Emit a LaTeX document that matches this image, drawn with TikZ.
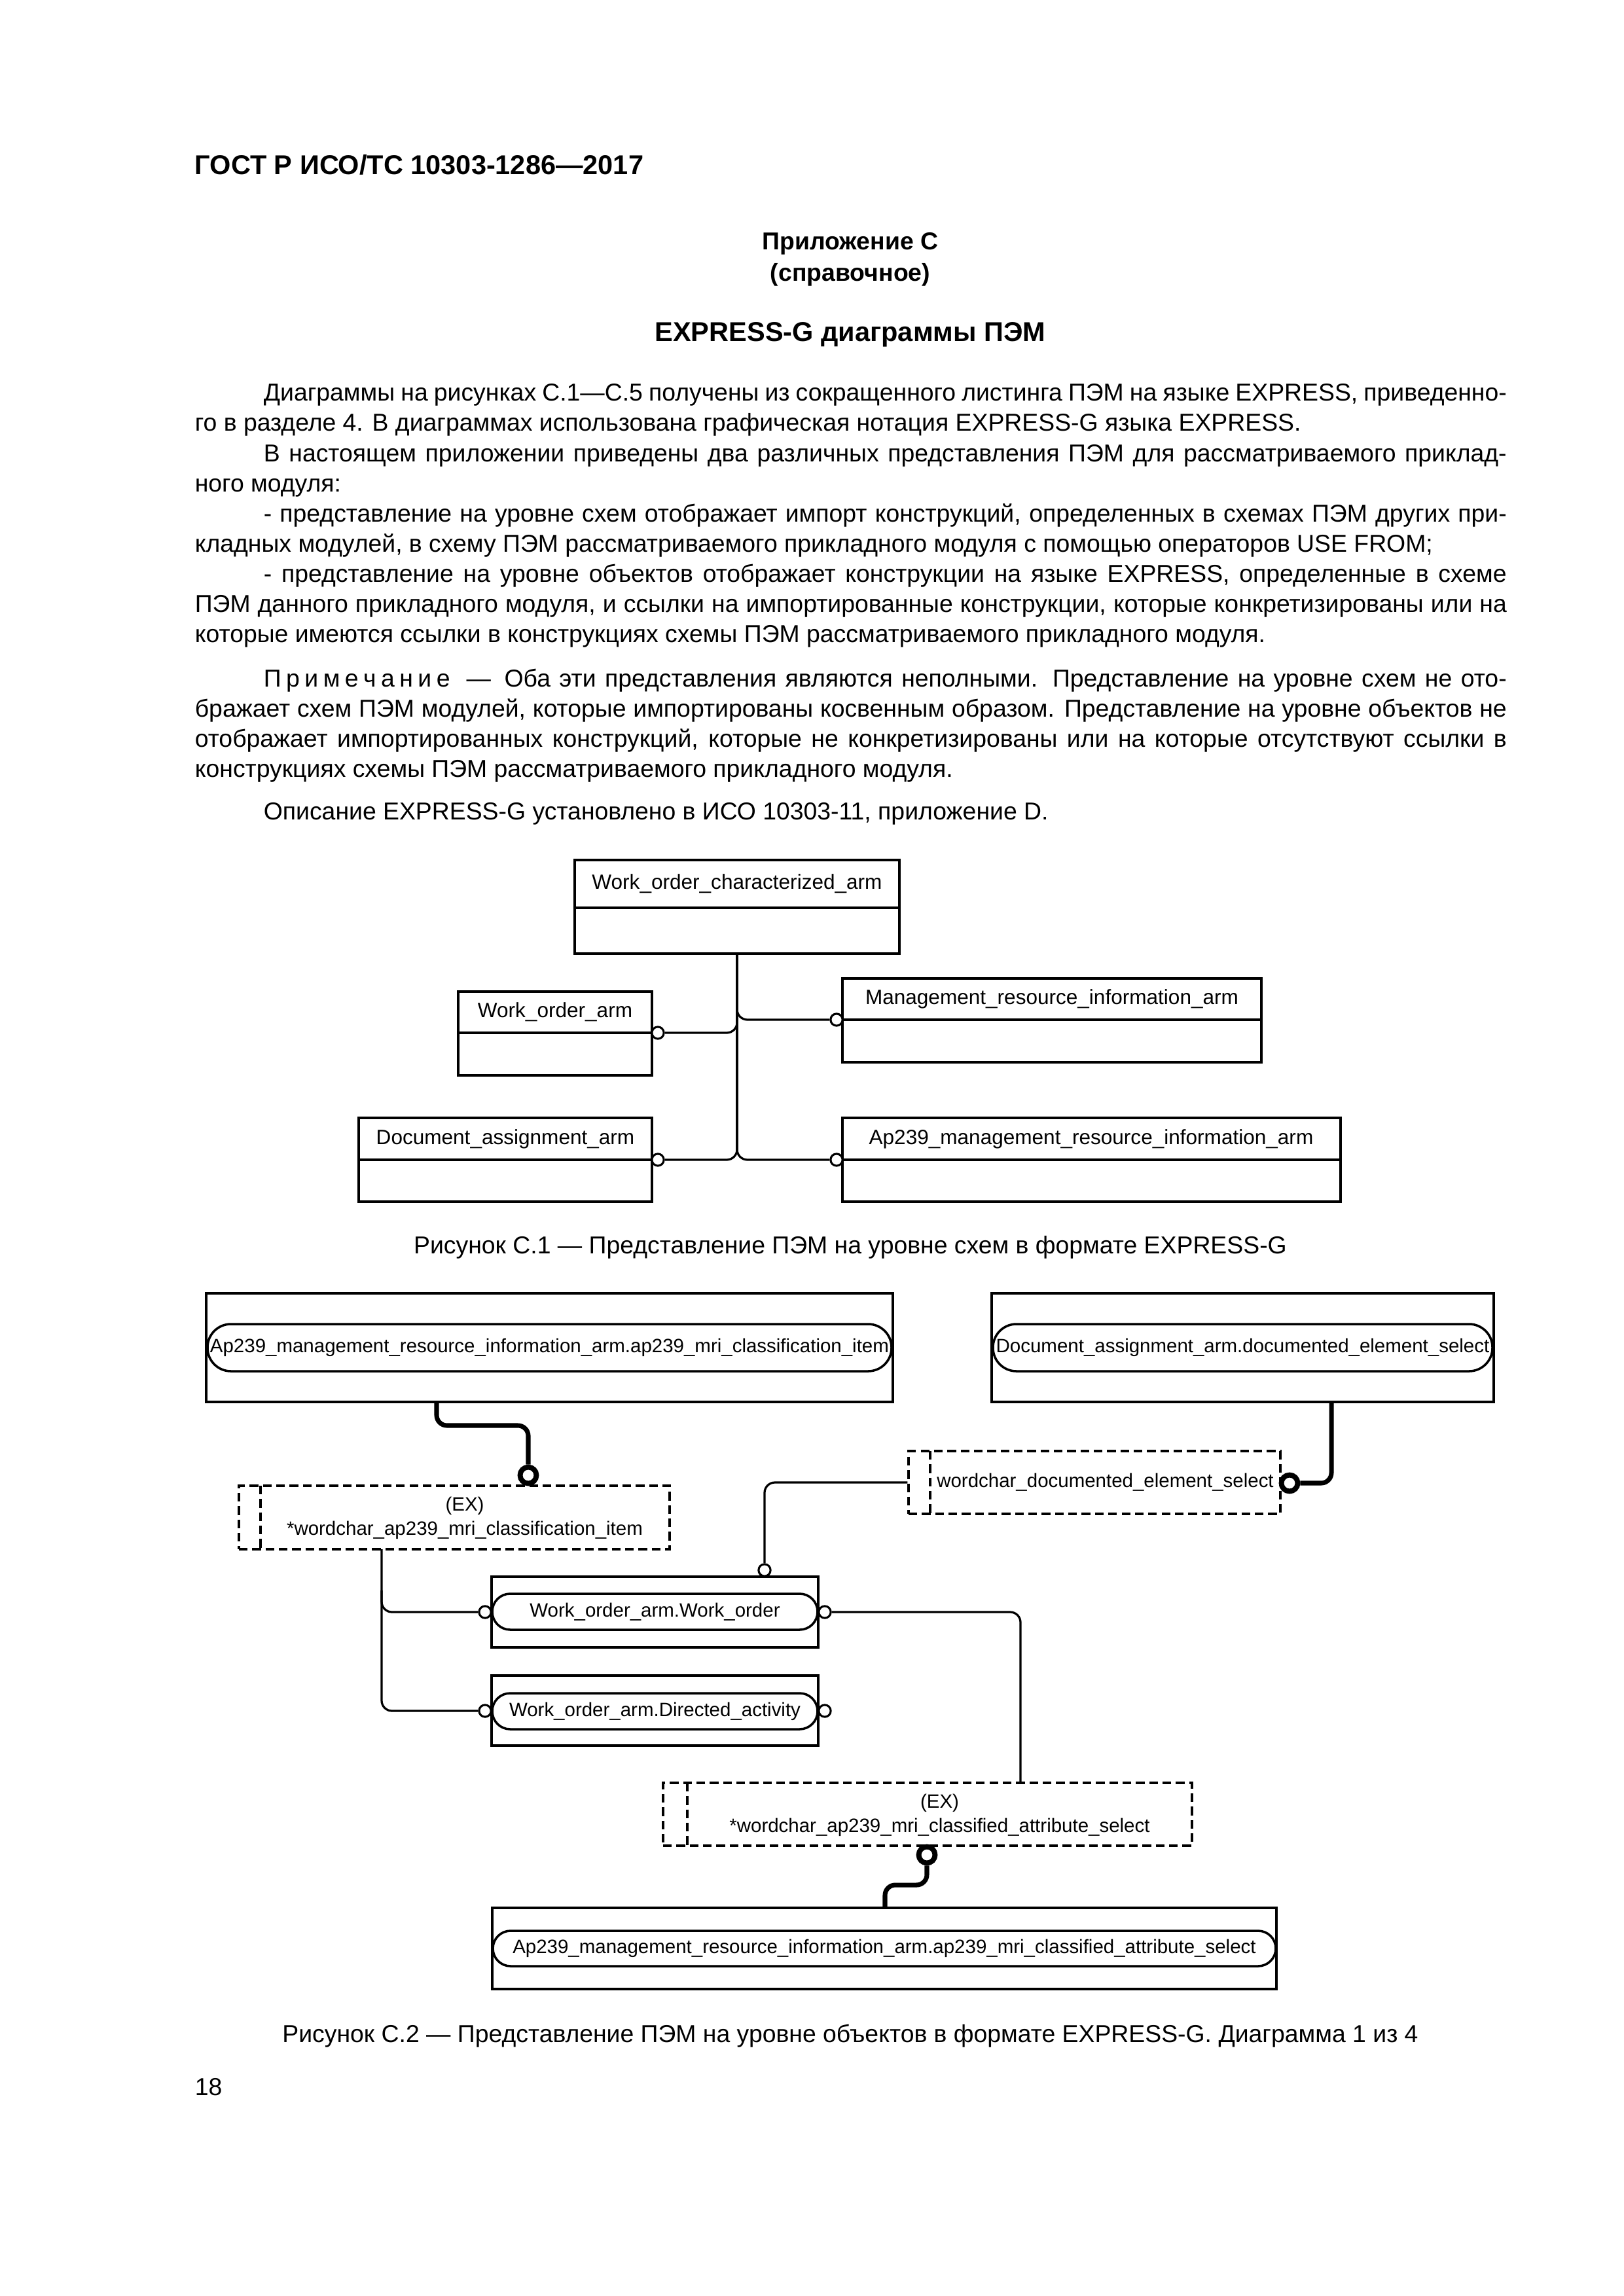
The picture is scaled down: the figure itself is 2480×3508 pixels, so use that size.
\documentclass[tikz,border=0pt]{standalone}
\usepackage{fontspec}
\setmainfont{Liberation Sans}
\usetikzlibrary{fit}
\newcommand{\jl}[1]{\makebox[482.7pt][s]{#1}}
\newcommand{\ji}[1]{\makebox[457.4pt][s]{#1}}
\begin{document}
\begin{tikzpicture}[x=0.24088pt,y=-0.24088pt,
  txt/.style={inner sep=0pt,anchor=base west,font=\fontsize{9}{11}\selectfont},
  ttl/.style={inner sep=0pt,anchor=base,font=\bfseries\fontsize{9}{11}\selectfont},
  figcap/.style={inner sep=0pt,anchor=base,font=\fontsize{9}{11}\selectfont},
  ln/.style={line width=0.78pt},
  tk/.style={line width=1.7pt},
  ebox/.style={draw,line width=0.85pt,inner sep=0pt},
  dbox/.style={draw,line width=0.8pt,inner sep=0pt,dash pattern=on 3.2pt off 1.7pt},
  dsh/.style={line width=0.8pt,dash pattern=on 3.2pt off 1.7pt},
  pill/.style={draw,line width=0.85pt,inner sep=0pt,fill=white},
  ta/.style={inner sep=0pt,font=\fontsize{7.6}{9}\selectfont},
  tb/.style={inner sep=0pt,font=\fontsize{7.1}{8.9}\selectfont},
  oc/.style={circle,draw,line width=0.75pt,fill=white,minimum size=4.4pt,inner sep=0pt},
  occ/.style={circle,draw,line width=1.9pt,fill=white,minimum size=6.0pt,inner sep=0pt},
  rc/.style={rounded corners=3.8pt}
]
\fill[white] (0,0) rectangle (2480,3508);
\useasboundingbox (0,0) rectangle (2480,3508);

% ---------------- header and text ----------------
\node[txt,font=\bfseries\fontsize{10}{12}\selectfont] (hdr) at (297,267) {ГОСТ Р ИСО/ТС 10303-1286—2017};
\node[ttl] (app) at (1299,382) {Приложение С};
\node[ttl] (ref) at (1299,430) {(справочное)};
\node[ttl,font=\bfseries\fontsize{10}{12}\selectfont] (title) at (1299,522) {EXPRESS-G диаграммы ПЭМ};

\node[txt] (l1) at (402,613) {\ji{Диаграммы на рисунках С.1—С.5 получены из сокращенного листинга ПЭМ на языке EXPRESS, приведенно-}};
\node[txt] (l2) at (297,659) {го в разделе 4. В диаграммах использована графическая нотация EXPRESS-G языка EXPRESS.};
\node[txt] (l3) at (402,705) {\ji{В настоящем приложении приведены два различных представления ПЭМ для рассматриваемого приклад-}};
\node[txt] (l4) at (297,751) {ного модуля:};
\node[txt] (l5) at (402,797) {\ji{- представление на уровне схем отображает импорт конструкций, определенных в схемах ПЭМ других при-}};
\node[txt] (l6) at (297,843) {кладных модулей, в схему ПЭМ рассматриваемого прикладного модуля с помощью операторов USE FROM;};
\node[txt] (l7) at (402,889) {\ji{- представление на уровне объектов отображает конструкции на языке EXPRESS, определенные в схеме}};
\node[txt] (l8) at (297,935) {\jl{ПЭМ данного прикладного модуля, и ссылки на импортированные конструкции, которые конкретизированы или на}};
\node[txt] (l9) at (297,981) {которые имеются ссылки в конструкциях схемы ПЭМ рассматриваемого прикладного модуля.};
\node[txt] (l10) at (402,1049) {\ji{\mbox{П\kern1.8ptр\kern1.8ptи\kern1.8ptм\kern1.8ptе\kern1.8ptч\kern1.8ptа\kern1.8ptн\kern1.8ptи\kern1.8ptе}\hspace{6pt}—\hspace{5pt}Оба эти представления являются неполными. Представление на уровне схем не ото-}};
\node[txt] (l11) at (297,1095) {\jl{бражает схем ПЭМ модулей, которые импортированы косвенным образом. Представление на уровне объектов не}};
\node[txt] (l12) at (297,1141) {\jl{отображает импортированных конструкций, которые не конкретизированы или на которые отсутствуют ссылки в}};
\node[txt] (l13) at (297,1187) {конструкциях схемы ПЭМ рассматриваемого прикладного модуля.};
\node[txt] (l14) at (402,1252) {Описание EXPRESS-G установлено в ИСО 10303-11, приложение D.};

% ---------------- Figure C.1 ----------------
\node[ebox,fit={(878,1314) (1374,1457)}] (b1) {};
\draw[ln] (878,1387) -- (1374,1387);
\node[ta] (b1t) at (1126,1350) {Work\_order\_characterized\_arm};

\node[ebox,fit={(700,1515) (996,1643)}] (b2) {};
\draw[ln] (700,1578) -- (996,1578);
\node[ta] (b2t) at (848,1546) {Work\_order\_arm};

\node[ebox,fit={(1287,1495) (1927,1623)}] (b3) {};
\draw[ln] (1287,1558) -- (1927,1558);
\node[ta] (b3t) at (1607,1526) {Management\_resource\_information\_arm};

\node[ebox,fit={(548,1708) (996,1836)}] (b4) {};
\draw[ln] (548,1772) -- (996,1772);
\node[ta] (b4t) at (772,1740) {Document\_assignment\_arm};

\node[ebox,fit={(1287,1708) (2048,1836)}] (b5) {};
\draw[ln] (1287,1772) -- (2048,1772);
\node[ta] (b5t) at (1667,1740) {Ap239\_management\_resource\_information\_arm};

\coordinate (tr1) at (1126,1530);
\coordinate (tr2) at (1126,1550);
\coordinate (tr3) at (1126,1735);
\node[oc] (c12) at (1005,1578) {};
\node[oc] (c13) at (1278,1558) {};
\node[oc] (c14) at (1005,1772) {};
\node[oc] (c15) at (1278,1772) {};
\draw[ln] (b1.south) -- (1126,1760);
\draw[ln,rc] (tr1) |- (c13.west);
\draw[ln,rc] (tr2) |- (c12.east);
\draw[ln,rc] (tr3) |- (c14.east);
\draw[ln,rc] (tr3) |- (c15.west);

\node[figcap] (cap1) at (1299,1915) {Рисунок С.1 — Представление ПЭМ на уровне схем в формате EXPRESS-G};

% ---------------- Figure C.2 ----------------
\node[ebox,fit={(315,1976) (1364,2142)}] (bA) {};
\node[pill,rounded corners=8.6pt,fit={(317,2023) (1362,2095)}] (pA) {};
\node[tb] (pAt) at (839.5,2059) {Ap239\_management\_resource\_information\_arm.ap239\_mri\_classification\_item};

\node[ebox,fit={(1515,1976) (2282,2142)}] (bB) {};
\node[pill,rounded corners=8.6pt,fit={(1517,2023) (2280,2095)}] (pB) {};
\node[tb] (pBt) at (1898.5,2059) {Document\_assignment\_arm.documented\_element\_select};

\node[dbox,fit={(365,2270) (1023,2367)}] (bC) {};
\draw[dsh] (398,2270) -- (398,2367);
\node[tb,anchor=base] (bCt1) at (710,2308) {(EX)};
\node[tb,anchor=base] (bCt2) at (710,2345) {*wordchar\_ap239\_mri\_classification\_item};

\node[dbox,fit={(1388,2217) (1956,2313)}] (bD) {};
\draw[dsh] (1421,2217) -- (1421,2313);
\node[tb] (bDt) at (1688.5,2265) {wordchar\_documented\_element\_select};

\node[ebox,fit={(751,2409) (1250,2517)}] (bE) {};
\node[pill,rounded corners=6.6pt,fit={(752,2435) (1249,2490)}] (pE) {};
\node[tb] (pEt) at (1000.5,2462.5) {Work\_order\_arm.Work\_order};

\node[ebox,fit={(751,2560) (1250,2667)}] (bF) {};
\node[pill,rounded corners=6.6pt,fit={(752,2587) (1249,2642)}] (pF) {};
\node[tb] (pFt) at (1000.5,2614.5) {Work\_order\_arm.Directed\_activity};

\node[dbox,fit={(1013,2724) (1821,2820)}] (bG) {};
\draw[dsh] (1050,2724) -- (1050,2820);
\node[tb,anchor=base] (bGt1) at (1435.5,2762) {(EX)};
\node[tb,anchor=base] (bGt2) at (1435.5,2799) {*wordchar\_ap239\_mri\_classified\_attribute\_select};

\node[ebox,fit={(752,2915) (1950,3039)}] (bH) {};
\node[pill,rounded corners=6.5pt,fit={(753,2950) (1949,3004)}] (pH) {};
\node[tb] (pHt) at (1351,2977) {Ap239\_management\_resource\_information\_arm.ap239\_mri\_classified\_attribute\_select};

% circles
\node[occ] (cc1) at (807,2254) {};
\node[occ] (cc2) at (1970,2266) {};
\node[occ] (cc3) at (1416,2834) {};
\node[oc] (c3) at (1168,2399) {};
\node[oc] (c4) at (741,2463) {};
\node[oc] (c5) at (741,2614) {};
\node[oc] (c6) at (1260,2463) {};
\node[oc] (c7) at (1260,2614) {};

% connectors
\coordinate (a1) at (667,2142);
\draw[tk,rc] (a1) -- (667,2178) -- (807,2178) -- (cc1.north);
\coordinate (b1c) at (2034,2142);
\draw[tk,rc] (b1c) |- (cc2.east);
\draw[ln,rc] (bD.west) -| (c3.north);
\coordinate (v1) at (583,2367);
\coordinate (v2) at (583,2430);
\draw[ln,rc] (v1) |- (c5.west);
\draw[ln,rc] (v2) |- (c4.west);
\coordinate (g1) at (1559,2724);
\draw[ln,rc] (c6.east) -| (g1);
\coordinate (h1) at (1352,2915);
\draw[tk,rc] (cc3.south) -- (1416,2880) -- (1352,2880) -- (h1);

\node[figcap] (cap2) at (1299,3120) {Рисунок С.2 — Представление ПЭМ на уровне объектов в формате EXPRESS-G. Диаграмма 1 из 4};
\node[txt] (pg) at (297,3201) {18};
\end{tikzpicture}
\end{document}
